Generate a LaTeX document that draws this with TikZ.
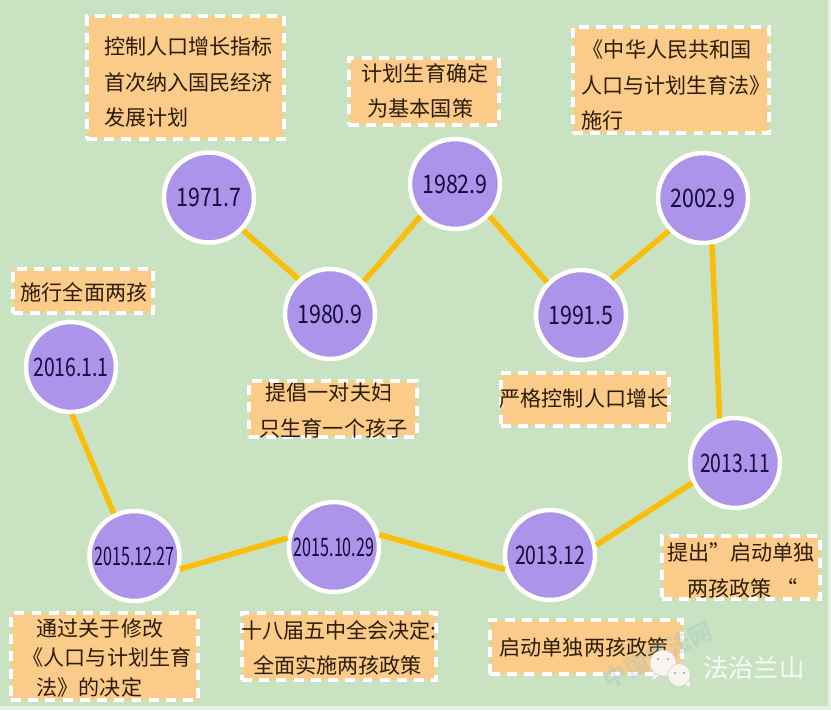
\documentclass[tikz,border=0pt]{standalone}
\usepackage{fontspec}
\usepackage{tikz}
\usetikzlibrary{calc}
\newfontfamily\cjkfont{Noto Sans CJK SC}
\newfontfamily\datefont[FakeStretch=0.84]{Noto Sans CJK SC}
\newfontfamily\datefontm[FakeStretch=0.76]{Noto Sans CJK SC}
\newfontfamily\datefontn[FakeStretch=0.63]{Noto Sans CJK SC}
\definecolor{bggreen}{RGB}{201,227,194}
\definecolor{edgepale}{RGB}{232,240,232}
\definecolor{boxorange}{RGB}{250,203,137}
\definecolor{datepurple}{RGB}{173,148,235}
\definecolor{linkyellow}{RGB}{250,190,10}
\definecolor{textdark}{RGB}{45,28,8}
\definecolor{dateink}{RGB}{22,12,60}
\definecolor{markblue}{RGB}{150,190,200}
\definecolor{bubblewhite}{RGB}{248,245,238}
\tikzset{
  datenode/.style={circle, draw=white, fill=datepurple, line width=4.5pt*0.569,
                   minimum size=90*0.569pt, inner sep=0pt, text=dateink,
                   font=\datefont\fontsize{14.5}{16}\selectfont},
  datemid/.style ={datenode, font=\datefontm\fontsize{14.5}{16}\selectfont},
  datelong/.style={datenode, font=\datefontn\fontsize{14.5}{16}\selectfont},
  notebox/.style ={rectangle, draw=white, fill=boxorange, line width=4pt*0.569,
                   dash pattern=on 5.6pt off 4.2pt, inner sep=0pt},
  notetext/.style={inner sep=0pt, text=textdark, align=left,
                   font=\cjkfont\fontsize{12}{20}\selectfont},
  link/.style    ={line width=5.5pt*0.569, linkyellow},
  signmark/.style={text=white!85!bggreen, font=\cjkfont\fontsize{14.4}{16}\selectfont},
  bubble/.style  ={circle, draw=black!20, fill=bubblewhite, line width=0.2pt,
                   minimum size=14.5pt, inner sep=0pt},
  bubbleye/.style={circle, fill=black!35, minimum size=1.3pt, inner sep=0pt},
}
\begin{document}
\begin{tikzpicture}[x=0.02cm,y=-0.02cm]
  \fill[edgepale] (0,0) rectangle (831,710);
  \fill[bggreen] (0,0) rectangle (828,706);
  \useasboundingbox (0,0) rectangle (831,710);
  % boxes
  \node[notebox, minimum width=197*0.569pt, minimum height=123*0.569pt] (ctlbox) at (185.5,77.5) {};
  \node[notetext] (ctltext) at (188.5,82) {控制人口增长指标\\首次纳入国民经济\\发展计划};
  \node[notebox, minimum width=150*0.569pt, minimum height=67*0.569pt] (polbox) at (424,91.5) {};
  \node[notetext] (poltext) at (425,90.5) {计划生育确定\\\hspace*{3.4pt}为基本国策};
  \node[notebox, minimum width=196*0.569pt, minimum height=106*0.569pt] (lawbox) at (671,80) {};
  \node[notetext] (lawtext) at (676,85) {\hspace*{1pt}《中华人民共和国\\人口与计划生育法》\\施行};
  \node[notebox, minimum width=140*0.569pt, minimum height=44*0.569pt] (twobox) at (83,291) {};
  \node[notetext] (twotext) at (84,292.5) {施行全面两孩};
  \node[notebox, minimum width=168*0.569pt, minimum height=56*0.569pt] (onebox) at (333,409) {};
  \node[notetext] (onetext) at (333.5,410.5) {\hspace*{3.4pt}提倡一对夫妇\\只生育一个孩子};
  \node[notebox, minimum width=168*0.569pt, minimum height=53*0.569pt] (strbox) at (585,399.5) {};
  \node[notetext] (strtext) at (584,398) {严格控制人口增长};
  \node[notebox, minimum width=158*0.569pt, minimum height=63*0.569pt] (probox) at (741,567.5) {};
  \node[notetext] (protext) at (741,570.5) {提出”启动单独\\\hspace*{11.4pt}两孩政策 “};
  \node[notebox, minimum width=192*0.569pt, minimum height=54*0.569pt] (solbox) at (586,647) {};
  \node[notetext] (soltext) at (584,647) {启动单独两孩政策};
  \node[notebox, minimum width=187*0.569pt, minimum height=87*0.569pt] (amdbox) at (104.5,656.5) {};
  \node[notetext, font=\cjkfont\fontsize{12}{17}\selectfont] (amdtext) at (107,658)
    {\hspace*{8pt}通过关于修改\\《人口与计划生育\\\hspace*{8pt}法》的决定};
  \node[notebox, minimum width=194*0.569pt, minimum height=67*0.569pt] (plebox) at (339,646.5) {};
  \node[notetext] (pletext) at (339,648) {十八届五中全会决定:\\\hspace*{6.8pt}全面实施两孩政策};
  % dates
  \node[datenode] (d1971) at (209,197.5) {1971.7};
  \node[datenode] (d1980) at (330,314) {1980.9};
  \node[datenode] (d1982) at (455,184) {1982.9};
  \node[datenode] (d1991) at (581,315) {1991.5};
  \node[datenode] (d2002) at (703,198) {2002.9};
  \node[datemid] (d2013b) at (735,463) {2013.11};
  \node[datemid] (d2013c) at (550,555) {2013.12};
  \node[datelong] (d2015b) at (334,547) {2015.10.29};
  \node[datelong] (d2015c) at (134.5,556) {2015.12.27};
  \node[datemid] (d2016) at (71,367) {2016.1.1};
  % links
  \draw[link] (d1971.-44) -- (d1980.132);
  \draw[link] (d1980.44) -- (d1982.223);
  \draw[link] (d1982.-43) -- (d1991.136);
  \draw[link] (d1991.50) -- (d2002.224);
  \draw[link] (d2002.-79) -- (d2013b.109);
  \draw[link] (d2013b.205) -- (d2013c.12);
  \draw[link] (d2013c.198) -- (d2015b.15);
  \draw[link] (d2015b.169) -- (d2015c.-16);
  \draw[link] (d2015c.116) -- (d2016.-89);
  % sign at the corner
  \node[rotate=26, text=markblue, opacity=0.3, font=\cjkfont\bfseries\fontsize{13.5}{16}\selectfont] (wmark) at (658,655) {中国普法网};
  \node[bubble, minimum size=14.8pt] (bubL) at (663,663) {};
  \fill[bubblewhite, draw=black!20, line width=0.2pt] (bubL.-130) -- (651,681) -- (bubL.-105) -- cycle;
  \node[bubbleye] (eyeA) at (658,659) {};
  \node[bubbleye] (eyeB) at (668,659) {};
  \node[bubble, minimum size=12.8pt] (bubR) at (679,675) {};
  \fill[bubblewhite, draw=black!20, line width=0.2pt] (bubR.-60) -- (691,688) -- (bubR.-25) -- cycle;
  \node[bubbleye] (eyeC) at (675,673) {};
  \node[bubbleye] (eyeD) at (684,673) {};
  \node[signmark, anchor=west] (sign) at (697,668) {法治兰山};
\end{tikzpicture}
\end{document}
